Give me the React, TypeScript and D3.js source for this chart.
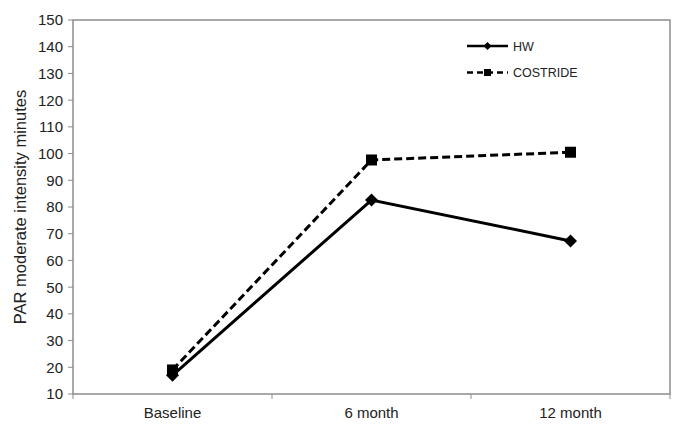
import React from "react";
import * as d3 from "d3";

const categories = ["Baseline", "6 month", "12 month"];
const hwValues = [17, 82.6, 67.3];
const costrideValues = [19, 97.6, 100.5];
const yTicks = [10, 20, 30, 40, 50, 60, 70, 80, 90, 100, 110, 120, 130, 140, 150];

const W = 685, H = 433;
const left = 73, right = 670, top = 20, bottom = 394;
const font = "'Liberation Sans', Arial, sans-serif";

export default function App() {
  const x = d3.scaleBand<string>().domain(categories).range([left, right]);
  const y = d3.scaleLinear().domain([10, 150]).range([bottom, top]);
  const cx = (c: string) => (x(c) as number) + x.bandwidth() / 2;
  const line = d3.line<number>().x((_, i) => cx(categories[i])).y((d) => y(d));
  const axisColor = "#8c8c8c";
  const bounds = [left, ...categories.map((c) => (x(c) as number) + x.bandwidth())];

  const diamond = (px: number, py: number, r: number) =>
    `M${px},${py - r}L${px + r},${py}L${px},${py + r}L${px - r},${py}Z`;

  return (
    <svg width={W} height={H} style={{ position: "absolute", left: 0, top: 0, background: "#fff" }}>
      <rect x={left} y={top} width={right - left} height={bottom - top} fill="none" stroke={axisColor} strokeWidth={1.5} />
      {yTicks.map((t) => (
        <g key={t}>
          <line x1={left - 5} x2={left} y1={y(t)} y2={y(t)} stroke={axisColor} strokeWidth={1} />
          <text x={left - 10} y={y(t)} dy="0.36em" textAnchor="end" fontFamily={font} fontSize={15} fill="#222">{t}</text>
        </g>
      ))}
      {bounds.map((b, i) => (
        <line key={i} x1={b} x2={b} y1={bottom} y2={bottom + 5} stroke={axisColor} strokeWidth={1} />
      ))}
      {categories.map((c) => (
        <text key={c} x={cx(c)} y={bottom + 24} textAnchor="middle" fontFamily={font} fontSize={15} fill="#222">{c}</text>
      ))}
      <text transform={`translate(26,${(top + bottom) / 2}) rotate(-90)`} textAnchor="middle" fontFamily={font} fontSize={16.5} fill="#222">
        PAR moderate intensity minutes
      </text>

      <path d={line(costrideValues) || ""} fill="none" stroke="#000" strokeWidth={3} strokeDasharray="8,4" />
      <path d={line(hwValues) || ""} fill="none" stroke="#000" strokeWidth={3} />
      {costrideValues.map((v, i) => (
        <rect key={"s" + i} x={cx(categories[i]) - 5.5} y={y(v) - 5.5} width={11} height={11} fill="#000" />
      ))}
      {hwValues.map((v, i) => (
        <path key={"d" + i} d={diamond(cx(categories[i]), y(v), 6.5)} fill="#000" />
      ))}

      <g>
        <line x1={467} x2={508} y1={46} y2={46} stroke="#000" strokeWidth={2.5} />
        <path d={diamond(487.5, 46, 4)} fill="#000" />
        <text x={513} y={46} dy="0.36em" fontFamily={font} fontSize={12.5} fill="#222">HW</text>
        <line x1={467} x2={508} y1={72.5} y2={72.5} stroke="#000" strokeWidth={2.5} strokeDasharray="6,4" />
        <rect x={484} y={69} width={7} height={7} fill="#000" />
        <text x={513} y={72.5} dy="0.36em" fontFamily={font} fontSize={12.5} fill="#222">COSTRIDE</text>
      </g>
    </svg>
  );
}
